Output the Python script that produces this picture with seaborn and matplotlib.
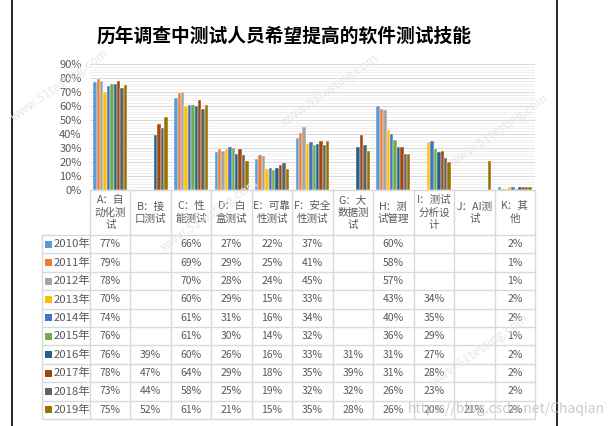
import numpy as np
import pandas as pd
import matplotlib
matplotlib.use("Agg")
import matplotlib.pyplot as plt
import seaborn as sns

sns.set_style("white")
plt.rcParams['font.family'] = ['Noto Sans CJK SC', 'DejaVu Sans']

title = "历年调查中测试人员希望提高的软件测试技能"
categories = ["A：自\n动化测\n试", "B：接\n口测试", "C：性\n能测试", "D：白\n盒测试",
              "E：可靠\n性测试", "F：安全\n性测试", "G：大\n数据测\n试", "H：测\n试管理",
              "I：测试\n分析设\n计", "J：AI测\n试", "K：其\n他"]
years = ["2010年", "2011年", "2012年", "2013年", "2014年", "2015年",
         "2016年", "2017年", "2018年", "2019年"]
nan = np.nan
A = [77, 79, 78, 70, 74, 76, 76, 78, 73, 75]
B = [nan, nan, nan, nan, nan, nan, 39, 47, 44, 52]
C = [66, 69, 70, 60, 61, 61, 60, 64, 58, 61]
D = [27, 29, 28, 29, 31, 30, 26, 29, 25, 21]
E = [22, 25, 24, 15, 16, 14, 16, 18, 19, 15]
F = [37, 41, 45, 33, 34, 32, 33, 35, 32, 35]
G = [nan, nan, nan, nan, nan, nan, 31, 39, 32, 28]
H = [60, 58, 57, 43, 40, 36, 31, 31, 26, 26]
I = [nan, nan, nan, 34, 35, 29, 27, 28, 23, 20]
J = [nan, nan, nan, nan, nan, nan, nan, nan, nan, 21]
K = [2, 1, 1, 2, 2, 1, 2, 2, 2, 2]
series = [A, B, C, D, E, F, G, H, I, J, K]
yticks = [0, 10, 20, 30, 40, 50, 60, 70, 80, 90]
colors = ["#5B9BD5", "#ED7D31", "#A5A5A5", "#FFC000", "#4472C4", "#70AD47",
          "#255E91", "#9E480E", "#636363", "#997300"]

rows = []
for ci, cat in enumerate(categories):
    for yi, yr in enumerate(years):
        rows.append({"cat": cat, "year": yr, "val": series[ci][yi] / 100.0})
df = pd.DataFrame(rows)

W, Hh = 609, 426
fig = plt.figure(figsize=(W / 100, Hh / 100), dpi=100)

# layout in pixels
x0, x1 = 90, 535
ytop, ybot = 64, 190
ax = fig.add_axes([x0 / W, 1 - ybot / Hh, (x1 - x0) / W, (ybot - ytop) / Hh])
sns.barplot(data=df, x="cat", y="val", hue="year", order=categories, hue_order=years,
            palette=colors, width=0.84, ax=ax, legend=False, saturation=1,
            edgecolor="white", linewidth=0.3)
ax.set_xlim(-0.5, len(categories) - 0.5)
ax.set_ylim(0, 0.9)
ax.set_yticks([t / 100 for t in yticks])
ax.set_yticklabels([f"{t}%" for t in yticks], fontsize=8, color="#595959")
ax.set_yticks(np.arange(0, 0.9, 0.02), minor=True)
ax.grid(axis="y", which="major", color="#D9D9D9", linewidth=0.8)
ax.grid(axis="y", which="minor", color="#EDEDED", linewidth=0.6)
ax.set_axisbelow(True)
ax.set_xticks([])
ax.set_xlabel("")
ax.set_ylabel("")
ax.tick_params(axis="y", which="both", length=0, pad=6)
for s in ax.spines.values():
    s.set_visible(False)

# overlay axes in pixel coordinates for table, title, borders
ov = fig.add_axes([0, 0, 1, 1], zorder=5)
ov.set_xlim(0, W)
ov.set_ylim(Hh, 0)
ov.axis("off")
ov.patch.set_alpha(0)

ov.text(284, 36, title, ha="center", va="center", fontsize=13.5, fontweight="bold", color="black")

# outer black borders
ov.plot([12, 12], [0, Hh], color="black", lw=1.2)
ov.plot([557, 557], [0, Hh], color="black", lw=1.2)

grid_c = "#D9D9D9"
text_c = "#595959"
ncat = len(categories)
colw = (x1 - x0) / ncat
head_bot = 235
tbl_bot = 419
rowh = (tbl_bot - head_bot) / len(years)
lab_x0 = 42

# vertical lines
for k in range(ncat + 1):
    xx = x0 + k * colw
    ov.plot([xx, xx], [ybot, tbl_bot], color=grid_c, lw=1)
ov.plot([lab_x0, lab_x0], [head_bot, tbl_bot], color=grid_c, lw=1)
# horizontal lines
ov.plot([x0, x1], [ybot, ybot], color=grid_c, lw=1)
for r in range(len(years) + 1):
    yy = head_bot + r * rowh
    ov.plot([lab_x0, x1], [yy, yy], color=grid_c, lw=1)

# header texts
for k, cat in enumerate(categories):
    ov.text(x0 + (k + 0.5) * colw, (ybot + head_bot) / 2, cat, ha="center", va="center",
            fontsize=7.6, color=text_c, linespacing=1.25)

# rows
for r, yr in enumerate(years):
    yc = head_bot + (r + 0.5) * rowh
    ov.add_patch(plt.Rectangle((45, yc - 3.5), 7, 7, color=colors[r], lw=0))
    ov.text(54, yc, yr, ha="left", va="center", fontsize=8.2, color=text_c)
    for k in range(ncat):
        v = series[k][r]
        if not np.isnan(v):
            ov.text(x0 + (k + 0.5) * colw, yc, f"{int(v)}%", ha="center", va="center",
                    fontsize=7.5, color=text_c)

# watermarks
for (wx, wy) in [(60, 85), (330, 90), (210, 215), (500, 130), (480, 350)]:
    ov.text(wx, wy, "www.51testing.com", rotation=35, fontsize=9, color="#E8E8E8",
            ha="center", va="center", style="italic")
ov.text(605, 409, "https://blog.csdn.net/Chaqian", ha="right", va="center",
        fontsize=10, color="#BFBFBF", alpha=0.8)

fig.savefig("out.png", dpi=100)
